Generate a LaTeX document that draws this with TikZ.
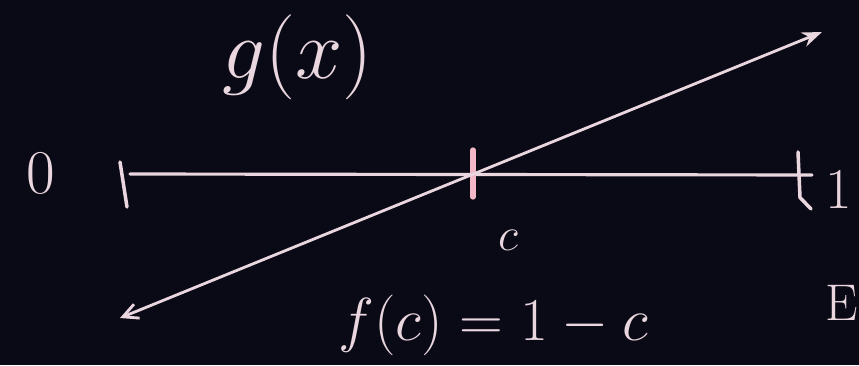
\documentclass[tikz,border=0pt]{standalone}
\usetikzlibrary{arrows.meta}
\definecolor{board}{HTML}{0A0A16}
\definecolor{chalk}{HTML}{EAD6DE}
\definecolor{chalkpink}{HTML}{F2B8C8}
\begin{document}
\begin{tikzpicture}[
      stroke/.style={chalk, line width=1.8pt, line cap=round},
      tick/.style={stroke, line width=2pt},
      ctick/.style={chalkpink, line width=3pt, line cap=round},
      graph/.style={stroke, line width=1.6pt, {Straight Barb[length=3mm,width=3mm]}-{Stealth[length=4mm,width=3mm]}},
      lbl/.style={text=chalk, inner sep=0pt, font=\LARGE}
    ]
    % Board and its size.
    \fill[board] (0,0) rectangle (17.18,7.3);
    \useasboundingbox (0,0) rectangle (17.18,7.3);

    % Unit interval with its ends and the point c.
    \coordinate (L)  at (2.6, 3.82);
    \coordinate (R)  at (16.24, 3.8);
    \coordinate (Lt) at (2.4, 4.06);
    \coordinate (Lb) at (2.54, 3.16);
    \coordinate (Ct) at (9.46, 4.3);
    \coordinate (Cb) at (9.46, 3.36);
    \coordinate (Rt) at (15.96, 4.26);
    \coordinate (Rb) at (16.22, 3.12);

    \draw[stroke] (L) -- (R);
    \draw[tick] (Lt) -- (Lb);
    \draw[tick] (Rt) -- (16.0, 3.35) -- (Rb);
    \draw[ctick] (Ct) -- (Cb);

    % The line g(x), arrows at both ends.
    \coordinate (gA) at (2.4, 0.94);
    \coordinate (gB) at (16.44, 6.66);
    \draw[graph] (gA) -- (gB);

    % Labels.
    \node[lbl, scale=2.05] (zero) at (0.82, 3.84) {$0$};
    \node[lbl, scale=1.9, anchor=west] (one) at (16.5, 3.5) {$1$};
    \node[lbl, scale=2.8] (gx) at (5.95, 6.15) {$g(x)$};
    \node[lbl, scale=1.55] (c) at (10.16, 2.5) {$c$};
    \node[lbl, scale=2.0] (fc) at (9.86, 0.8) {$f(c)=1-c$};
    \node[lbl, scale=1.7, anchor=west] (eps) at (16.5, 1.24) {$\mathrm{E}$};
  \end{tikzpicture}
\end{document}
